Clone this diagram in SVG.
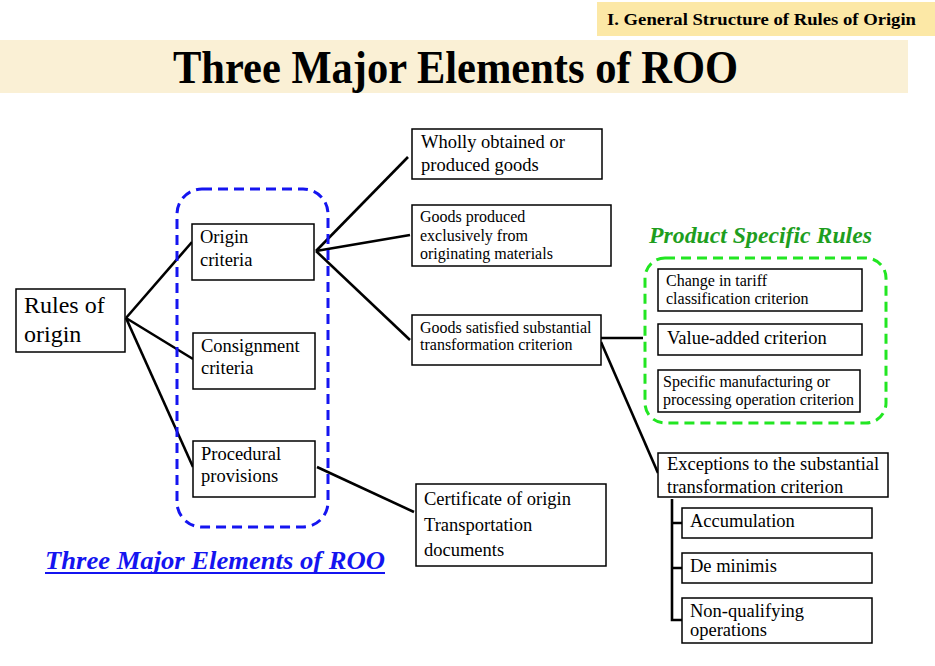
<svg xmlns="http://www.w3.org/2000/svg" width="935" height="666" viewBox="0 0 935 666">
<style>
.box{fill:#fff;stroke:#000;stroke-width:1.5}
.t{font-family:"Liberation Serif","Times New Roman",serif;fill:#000}
.conn{stroke:#000;stroke-width:2.6;fill:none;stroke-linecap:butt}
</style>
<rect width="935" height="666" fill="#fff"/>
<g id="header">
<rect x="597" y="2" width="338" height="34" fill="#FCE8A6"/>
<text class="t" x="607" y="25" font-size="16.5" font-weight="bold" textLength="309" lengthAdjust="spacingAndGlyphs">I. General Structure of Rules of Origin</text>
</g>
<g id="title">
<rect x="0" y="40" width="908" height="53" fill="#FAF0D5"/>
<text class="t" x="173" y="83" font-size="46" font-weight="bold" textLength="565" lengthAdjust="spacingAndGlyphs">Three Major Elements of ROO</text>
</g>
<g id="connectors">
<line class="conn" x1="126" y1="318" x2="192" y2="242"/>
<line class="conn" x1="126" y1="318" x2="193" y2="359"/>
<line class="conn" x1="126" y1="318" x2="193" y2="467"/>
<line class="conn" x1="316" y1="251" x2="408" y2="157"/>
<line class="conn" x1="316" y1="251" x2="410" y2="235"/>
<line class="conn" x1="316" y1="251" x2="410" y2="340"/>
<line class="conn" x1="317" y1="467" x2="414" y2="512"/>
<line class="conn" x1="601" y1="338" x2="643" y2="338"/>
<line class="conn" x1="601" y1="342" x2="658" y2="473"/>
<path class="conn" stroke-width="2" d="M672,499 V620 H682 M672,523 H682 M672,568 H682"/>
</g>
<g id="three-elements-group">
<rect x="177" y="189" width="151" height="338" rx="25" fill="none" stroke="#1515F0" stroke-width="3" stroke-dasharray="10,6"/>
</g>
<g id="psr-group">
<rect x="645" y="258" width="241" height="165" rx="20" fill="none" stroke="#22E622" stroke-width="3" stroke-dasharray="10,6"/>
<text class="t" x="649" y="243" font-size="23" font-weight="bold" font-style="italic" style="fill:#1E9E1E" textLength="223" lengthAdjust="spacingAndGlyphs">Product Specific Rules</text>
</g>
<g id="rules-of-origin">
<rect class="box" x="16" y="289" width="109" height="63"/>
<text class="t" x="24" y="313" font-size="24">Rules of</text>
<text class="t" x="24" y="342" font-size="24">origin</text>
</g>
<g id="origin-criteria">
<rect class="box" x="192" y="224" width="122" height="56"/>
<text class="t" x="200" y="243" font-size="18.5">Origin</text>
<text class="t" x="200" y="266" font-size="18.5">criteria</text>
</g>
<g id="consignment-criteria">
<rect class="box" x="193" y="333" width="122" height="56"/>
<text class="t" x="201" y="352" font-size="18.5">Consignment</text>
<text class="t" x="201" y="374" font-size="18.5">criteria</text>
</g>
<g id="procedural-provisions">
<rect class="box" x="193" y="441" width="122" height="56"/>
<text class="t" x="201" y="460" font-size="18.5">Procedural</text>
<text class="t" x="201" y="482" font-size="18.5">provisions</text>
</g>
<g id="wholly-obtained">
<rect class="box" x="412" y="129" width="190" height="50"/>
<text class="t" x="421" y="148" font-size="18.5">Wholly obtained or</text>
<text class="t" x="421" y="171" font-size="18.5">produced goods</text>
</g>
<g id="goods-produced">
<rect class="box" x="412" y="205" width="199" height="61"/>
<text class="t" x="420" y="222" font-size="16">Goods produced</text>
<text class="t" x="420" y="241" font-size="16">exclusively from</text>
<text class="t" x="420" y="259" font-size="16">originating materials</text>
</g>
<g id="goods-satisfied">
<rect class="box" x="412" y="315" width="189" height="50"/>
<text class="t" x="420" y="333" font-size="16">Goods satisfied substantial</text>
<text class="t" x="420" y="350" font-size="16">transformation criterion</text>
</g>
<g id="change-in-tariff">
<rect class="box" x="658" y="269" width="204" height="42"/>
<text class="t" x="666" y="286" font-size="16">Change in tariff</text>
<text class="t" x="666" y="304" font-size="16">classification criterion</text>
</g>
<g id="value-added">
<rect class="box" x="658" y="324" width="204" height="31"/>
<text class="t" x="667" y="344" font-size="18.5">Value-added criterion</text>
</g>
<g id="specific-manufacturing">
<rect class="box" x="658" y="370" width="202" height="42"/>
<text class="t" x="663" y="387" font-size="16">Specific manufacturing or</text>
<text class="t" x="663" y="405" font-size="16">processing operation criterion</text>
</g>
<g id="exceptions">
<rect class="box" x="658" y="453" width="230" height="44"/>
<text class="t" x="667" y="470" font-size="18.5">Exceptions to the substantial</text>
<text class="t" x="667" y="493" font-size="18.5">transformation criterion</text>
</g>
<g id="accumulation">
<rect class="box" x="682" y="508" width="190" height="30"/>
<text class="t" x="690" y="527" font-size="18.5">Accumulation</text>
</g>
<g id="de-minimis">
<rect class="box" x="682" y="553" width="190" height="30"/>
<text class="t" x="690" y="572" font-size="18.5">De minimis</text>
</g>
<g id="non-qualifying">
<rect class="box" x="682" y="598" width="190" height="45"/>
<text class="t" x="690" y="617" font-size="18.5">Non-qualifying</text>
<text class="t" x="690" y="636" font-size="18.5">operations</text>
</g>
<g id="certificate">
<rect class="box" x="416" y="484" width="190" height="82"/>
<text class="t" x="424" y="505" font-size="18.5">Certificate of origin</text>
<text class="t" x="424" y="531" font-size="18.5">Transportation</text>
<text class="t" x="424" y="556" font-size="18.5">documents</text>
</g>
<g id="caption">
<text class="t" x="45" y="569" font-size="26" font-weight="bold" font-style="italic" style="fill:#1414F0" textLength="340" lengthAdjust="spacingAndGlyphs">Three Major Elements of ROO</text>
<line x1="45" y1="573" x2="385" y2="573" stroke="#1414F0" stroke-width="2"/>
</g>
</svg>
